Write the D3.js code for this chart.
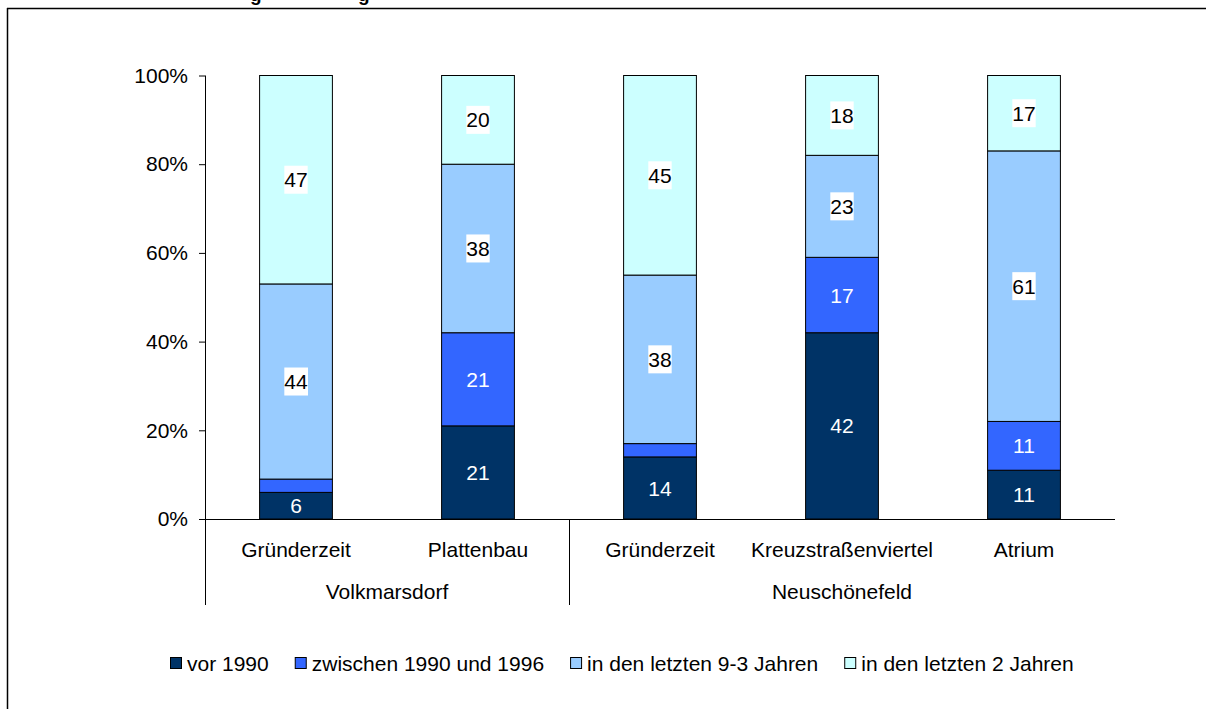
<!DOCTYPE html>
<html>
<head>
<meta charset="utf-8">
<script src="https://cdn.jsdelivr.net/npm/d3@7"></script>
<style>
  html, body { margin: 0; padding: 0; background: #fff; }
  svg { display: block; }
  text { font-family: "Liberation Sans", Arial, sans-serif; }
</style>
</head>
<body>
<svg id="chart" width="1206" height="709"></svg>
<script>
// ---- data ----
const categories = ["Gründerzeit", "Plattenbau", "Gründerzeit", "Kreuzstraßenviertel", "Atrium"];
const groups = ["Volkmarsdorf", "Volkmarsdorf", "Neuschönefeld", "Neuschönefeld", "Neuschönefeld"];
const groupNames = ["Volkmarsdorf", "Neuschönefeld"];
const seriesNames = ["vor 1990", "zwischen 1990 und 1996", "in den letzten 9-3 Jahren", "in den letzten 2 Jahren"];
const vor1990 = [6, 21, 14, 42, 11];
const zwischen = [3, 21, 3, 17, 11];
const letzte93 = [44, 38, 38, 23, 61];
const letzte2 = [47, 20, 45, 18, 17];
const yTicks = [0, 20, 40, 60, 80, 100];
const colors = ["#003366", "#3366FF", "#99CCFF", "#CCFFFF"];
const labelColors = ["#fff", "#fff", "#000", "#000"];
const labelBg = [false, false, true, true];

const seriesValues = [vor1990, zwischen, letzte93, letzte2];

const svg = d3.select("#chart");
const FS = 21;

// frame
svg.append("line").attr("x1", 7).attr("x2", 1206).attr("y1", 8.5).attr("y2", 8.5).attr("stroke", "#000").attr("stroke-width", 1.5);
svg.append("line").attr("x1", 7.5).attr("x2", 7.5).attr("y1", 8).attr("y2", 709).attr("stroke", "#000").attr("stroke-width", 1.5);

// cut-off title (only descenders visible, as in the reference)
svg.append("text").attr("x", 250).attr("y", 0.5).attr("font-family", "'Liberation Serif', serif").attr("font-weight", "bold").attr("font-size", 19).text("g");
svg.append("text").attr("x", 358).attr("y", 0.5).attr("font-family", "'Liberation Serif', serif").attr("font-weight", "bold").attr("font-size", 19).text("g");

const plot = { left: 205, right: 1115, top: 75.5, bottom: 519 };
const idx = d3.range(categories.length);
const x = d3.scaleBand().domain(idx).range([plot.left, plot.right]).paddingInner(0.6).paddingOuter(0.3);
const y = d3.scaleLinear().domain([0, 100]).range([plot.bottom, plot.top]);

// stacked data
const rows = idx.map(i => {
  const o = { i };
  seriesNames.forEach((s, k) => o[s] = seriesValues[k][i]);
  return o;
});
const stacked = d3.stack().keys(seriesNames)(rows);

// bars
stacked.forEach((layer, k) => {
  svg.append("g").selectAll("rect").data(layer).join("rect")
    .attr("x", d => x(d.data.i))
    .attr("width", x.bandwidth())
    .attr("y", d => y(d[1]))
    .attr("height", d => y(d[0]) - y(d[1]))
    .attr("fill", colors[k])
    .attr("stroke", "#000")
    .attr("stroke-width", 1);
});

// labels
stacked.forEach((layer, k) => {
  const g = svg.append("g");
  layer.forEach(d => {
    const v = d[1] - d[0];
    if (v < 5) return;
    const cx = x(d.data.i) + x.bandwidth() / 2;
    const cy = (y(d[0]) + y(d[1])) / 2;
    const t = g.append("text").attr("x", cx).attr("y", cy).attr("dy", "0.36em")
      .attr("text-anchor", "middle").attr("font-size", FS).attr("fill", labelColors[k]).text(v);
    if (labelBg[k]) {
      const bb = t.node().getBBox();
      g.insert("rect", "text").attr("x", bb.x).attr("y", cy - 14).attr("width", bb.width).attr("height", 28).attr("fill", "#fff");
    }
  });
});

// y axis
const yAxis = d3.axisLeft(y).tickValues(yTicks).tickSize(6).tickPadding(11).tickFormat(d => d + "%");
const ya = svg.append("g").attr("transform", `translate(${plot.left},0)`).call(yAxis);
ya.select(".domain").remove();
ya.selectAll("line").attr("stroke", "#000");
ya.selectAll("text").attr("font-size", FS).attr("font-family", "'Liberation Sans', Arial, sans-serif").attr("fill", "#000");
svg.append("line").attr("x1", plot.left + 0.5).attr("x2", plot.left + 0.5).attr("y1", plot.top).attr("y2", 605).attr("stroke", "#000");

// x axis baseline
svg.append("line").attr("x1", plot.left).attr("x2", plot.right).attr("y1", plot.bottom + 0.5).attr("y2", plot.bottom + 0.5).attr("stroke", "#000");

// category labels
const step = x.step();
svg.append("g").selectAll("text").data(idx).join("text")
  .attr("x", i => x(i) + x.bandwidth() / 2)
  .attr("y", 549).attr("dy", "0.36em")
  .attr("text-anchor", "middle").attr("font-size", FS).text(i => categories[i]);

// group separators and labels
groupNames.forEach((gname, gi) => {
  const members = idx.filter(i => groups[i] === gname);
  const gx0 = plot.left + d3.min(members) * step;
  const gx1 = plot.left + (d3.max(members) + 1) * step;
  if (gi > 0) {
    svg.append("line").attr("x1", gx0 + 0.5).attr("x2", gx0 + 0.5).attr("y1", plot.bottom).attr("y2", 605).attr("stroke", "#000");
  }
  svg.append("text").attr("x", (gx0 + gx1) / 2).attr("y", 591).attr("dy", "0.36em")
    .attr("text-anchor", "middle").attr("font-size", FS).text(gname);
});

// legend
const leg = svg.append("g");
let lx = 170;
seriesNames.forEach((s, k) => {
  leg.append("rect").attr("x", lx + 0.5).attr("y", 657.5).attr("width", 11).attr("height", 11)
    .attr("fill", colors[k]).attr("stroke", "#000").attr("stroke-width", 1);
  const t = leg.append("text").attr("x", lx + 17).attr("y", 663).attr("dy", "0.36em")
    .attr("font-size", FS).text(s);
  lx += 17 + t.node().getComputedTextLength() + 26;
});
</script>
</body>
</html>
